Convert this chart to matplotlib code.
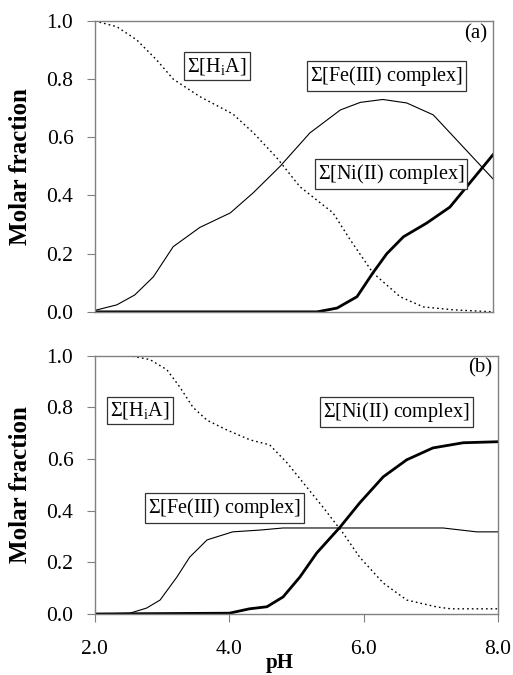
import matplotlib
matplotlib.use("Agg")
import matplotlib.pyplot as plt

plt.rcParams['font.family'] = ['Liberation Serif', 'DejaVu Serif']
plt.rcParams['mathtext.fontset'] = 'custom'
plt.rcParams['mathtext.rm'] = 'Liberation Serif'
plt.rcParams['mathtext.it'] = 'Liberation Serif:italic'

# ---- Panel (a) data ----
a_fe_ph = [2.0, 2.33, 2.6, 2.88, 3.18, 3.58, 4.04, 4.39, 4.79, 5.24, 5.7, 6.0, 6.34, 6.7, 7.1, 7.55, 8.0]
a_fe_y = [0.005, 0.024, 0.058, 0.12, 0.224, 0.29, 0.34, 0.41, 0.50, 0.615, 0.694, 0.72, 0.73, 0.718, 0.677, 0.567, 0.457]

a_hia_ph = [2.0, 2.33, 2.63, 2.93, 3.18, 3.58, 4.08, 4.39, 4.74, 5.09, 5.59, 5.85, 6.19, 6.6, 6.95, 7.4, 8.0]
a_hia_y = [1.0, 0.98, 0.935, 0.866, 0.80, 0.74, 0.68, 0.615, 0.53, 0.43, 0.34, 0.247, 0.134, 0.052, 0.017, 0.007, 0.0]

a_ni_ph = [2.0, 5.0, 5.35, 5.65, 5.95, 6.19, 6.4, 6.65, 7.0, 7.35, 7.65, 8.0]
a_ni_y = [0.0, 0.0, 0.0, 0.013, 0.052, 0.134, 0.2, 0.258, 0.305, 0.36, 0.443, 0.54]

# ---- Panel (b) data ----
b_hia_ph = [2.0, 2.52, 2.82, 3.07, 3.26, 3.46, 3.67, 3.96, 4.31, 4.6, 4.86, 5.1, 5.39, 5.69, 5.94, 6.29, 6.64, 7.09, 7.3, 8.0]
b_hia_y = [1.0, 1.0, 0.985, 0.946, 0.88, 0.80, 0.75, 0.713, 0.674, 0.655, 0.585, 0.508, 0.415, 0.314, 0.22, 0.12, 0.054, 0.027, 0.02, 0.02]

b_fe_ph = [2.0, 2.52, 2.77, 2.97, 3.22, 3.41, 3.67, 4.05, 4.46, 4.8, 7.18, 7.68, 8.0]
b_fe_y = [0.0, 0.003, 0.023, 0.054, 0.143, 0.22, 0.287, 0.318, 0.325, 0.333, 0.333, 0.318, 0.318]

b_ni_ph = [2.0, 4.0, 4.3, 4.56, 4.8, 5.05, 5.3, 5.65, 5.94, 6.29, 6.64, 7.03, 7.48, 8.0]
b_ni_y = [0.0, 0.003, 0.02, 0.028, 0.066, 0.143, 0.236, 0.337, 0.43, 0.531, 0.597, 0.643, 0.663, 0.667]

yticks = [0.0, 0.2, 0.4, 0.6, 0.8, 1.0]
xticks = [2.0, 4.0, 6.0, 8.0]

fig = plt.figure(figsize=(5.13, 6.75), dpi=100)
ax1 = fig.add_axes([0.185, 0.538, 0.776, 0.431])
ax2 = fig.add_axes([0.185, 0.0904, 0.786, 0.3826])

boxprops = dict(boxstyle='square,pad=0.15', facecolor='white', edgecolor='#333333', linewidth=0.9)
hia_label = r'$\Sigma$[H$_{\mathrm{i}}$A]'
ann_fs = 14.5

def style(ax, show_x):
    ax.set_xlim(2.0, 8.0)
    ax.set_ylim(0.0, 1.0)
    ax.set_yticks(yticks)
    ax.set_yticklabels([f'{v:.1f}' for v in yticks], fontsize=15.5)
    for s in ax.spines.values():
        s.set_color('#808080')
        s.set_linewidth(1.0)
    ax.tick_params(axis='y', direction='out', length=5.5, color='#808080', pad=10)
    if show_x:
        ax.set_xticks(xticks)
        ax.set_xticklabels([f'{v:.1f}' for v in xticks], fontsize=15.5)
        ax.tick_params(axis='x', direction='out', length=6, color='#808080', pad=13)
    else:
        ax.set_xticks([])
    ax.set_ylabel('Molar fraction', fontsize=18, fontweight='bold')
    w = ax.get_position().width * 513
    ax.yaxis.set_label_coords(-63.0 / w, 0.5)

# Panel (a)
ax1.plot(a_fe_ph, a_fe_y, color='black', lw=0.8)
ax1.plot(a_hia_ph, a_hia_y, color='black', lw=1.0, ls=(0, (1.2, 2.2)))
ax1.plot(a_ni_ph, a_ni_y, color='black', lw=2.0)
style(ax1, False)
ax1.text(3.84, 0.845, hia_label, fontsize=ann_fs, ha='center', va='center', bbox=boxprops)
ax1.text(6.40, 0.81, r'$\Sigma$[Fe(III) complex]', fontsize=ann_fs, ha='center', va='center', bbox=boxprops)
ax1.text(6.46, 0.474, r'$\Sigma$[Ni(II) complex]', fontsize=ann_fs, ha='center', va='center', bbox=boxprops)
ax1.text(0.985, 0.99, '(a)', transform=ax1.transAxes, fontsize=15, ha='right', va='top')

# Panel (b)
ax2.plot(b_fe_ph, b_fe_y, color='black', lw=0.8)
ax2.plot(b_hia_ph, b_hia_y, color='black', lw=1.0, ls=(0, (1.2, 2.2)))
ax2.plot(b_ni_ph, b_ni_y, color='black', lw=2.0)
style(ax2, True)
ax2.text(2.67, 0.787, hia_label, fontsize=ann_fs, ha='center', va='center', bbox=boxprops)
ax2.text(3.93, 0.41, r'$\Sigma$[Fe(III) complex]', fontsize=ann_fs, ha='center', va='center', bbox=boxprops)
ax2.text(6.49, 0.783, r'$\Sigma$[Ni(II) complex]', fontsize=ann_fs, ha='center', va='center', bbox=boxprops)
ax2.text(0.985, 0.99, '(b)', transform=ax2.transAxes, fontsize=15, ha='right', va='top')
ax2.set_xlabel('pH', fontsize=15, fontweight='bold', va='bottom')
ax2.xaxis.set_label_coords(0.459, -0.228)

fig.savefig('out.png', dpi=100)
